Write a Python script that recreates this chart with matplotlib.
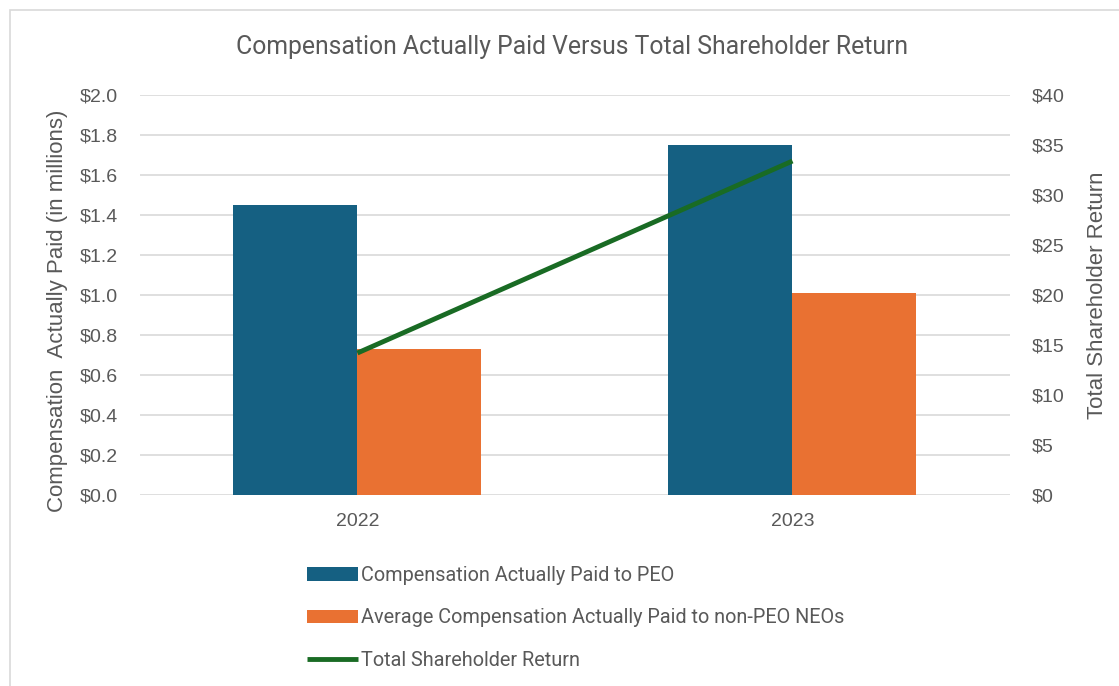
import numpy as np
import matplotlib.pyplot as plt
from matplotlib.patches import Rectangle

years = ['2022', '2023']
peo_cap = [1.45, 1.75]        # $ millions
neo_cap = [0.73, 1.01]        # $ millions
tsr = [14.2, 33.4]            # $

blue = '#156082'
orange = '#e97132'
green = '#196b24'
narrow = ['Roboto', 'DejaVu Sans']

plt.rcParams['font.family'] = ['Liberation Sans', 'DejaVu Sans']

fig = plt.figure(figsize=(11.19, 6.86), dpi=100)
fig.patches.append(Rectangle((10 / 1119, -0.01), 1.02, 1 - 10 / 686 + 0.01,
                             transform=fig.transFigure, fill=False,
                             edgecolor='#d9d9d9', linewidth=1.2))

ax = fig.add_axes([0.125, 0.2784, 0.7776, 0.5831])
x = np.arange(len(years))
w = 0.285
ax.bar(x - w / 2, peo_cap, w, color=blue, label='Compensation Actually Paid to PEO', zorder=2)
ax.bar(x + w / 2, neo_cap, w, color=orange,
       label='Average Compensation Actually Paid to non-PEO NEOs', zorder=2)
ax.set_xlim(-0.5, 1.5)
ax.set_ylim(0, 2.0)
ax.set_yticks(np.arange(0, 2.01, 0.2))
ax.set_yticklabels(['${:.1f}'.format(v) for v in np.arange(0, 2.01, 0.2)])
ax.set_xticks(x)
ax.set_xticklabels(years)
ax.grid(axis='y', color='#d9d9d9', linewidth=1.2, zorder=0)
ax.tick_params(length=0, labelsize=14, colors='#595959')
ax.tick_params(axis='y', pad=16)
ax.tick_params(axis='x', pad=13)
for s in ax.spines.values():
    s.set_visible(False)
ax.set_ylabel('Compensation  Actually Paid (in millions)', fontsize=16, color='#595959', labelpad=8)
ax.yaxis.label.set_y(0.46)

ax2 = ax.twinx()
ax2.plot(x, tsr, color=green, linewidth=3.5, label='Total Shareholder Return',
         solid_capstyle='butt', zorder=3)
ax2.set_ylim(0, 40)
ax2.set_yticks(np.arange(0, 41, 5))
ax2.set_yticklabels(['${}'.format(v) for v in range(0, 41, 5)])
ax2.tick_params(length=0, labelsize=14, colors='#595959', pad=16)
for s in ax2.spines.values():
    s.set_visible(False)
ax2.set_ylabel('Total Shareholder Return', fontsize=16, color='#595959', labelpad=16)

fig.text(0.511, 0.932, 'Compensation Actually Paid Versus Total Shareholder Return',
         ha='center', va='center', fontsize=17.8, color='#595959', family=narrow)

h1, l1 = ax.get_legend_handles_labels()
h2, l2 = ax2.get_legend_handles_labels()
leg = fig.legend(h1 + h2, l1 + l2, loc='upper left', bbox_to_anchor=(0.258, 0.2015),
                 frameon=False, ncol=1, handlelength=2.6, handleheight=0.7,
                 handletextpad=0.15, labelspacing=1.2, prop={'family': narrow, 'size': 14.3})
for t in leg.get_texts():
    t.set_color('#595959')

fig.savefig('out.png', dpi=100)
